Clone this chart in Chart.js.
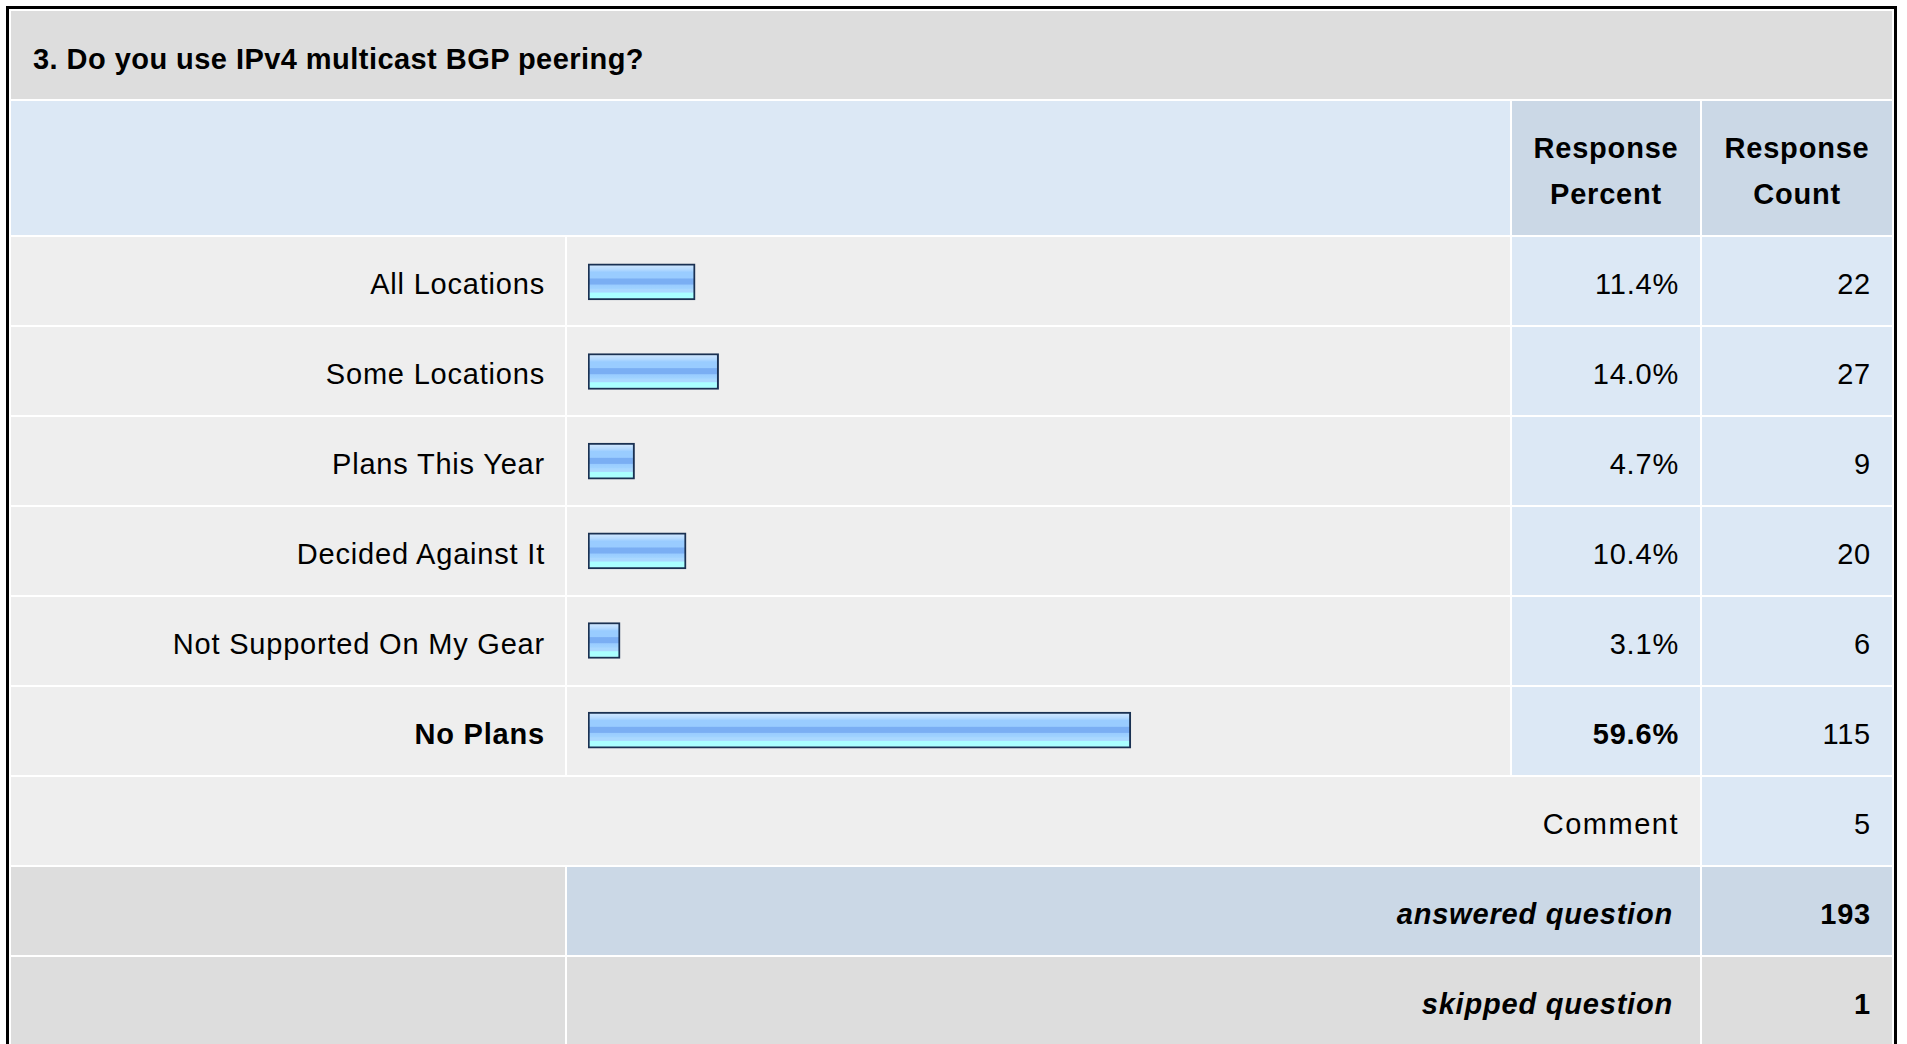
<!DOCTYPE html>
<html lang="en">
<head>
  <meta charset="UTF-8">
  <title>IPv4 multicast BGP peering</title>
  <script src="https://cdn.jsdelivr.net/npm/chart.js"></script>
  <style>
    * { margin:0; padding:0; box-sizing:border-box; }
    html,body { width:100%; height:100%; overflow:hidden; background:#fff; font-family:'Liberation Sans', Arial, sans-serif; color:#000; }

    #survey {
      position:absolute; left:6px; top:6px; width:1891px;
      table-layout:fixed; border-collapse:separate; border-spacing:2px;
      border:3px solid #000; background:#fff;
    }
    #survey td { height:88px; font-size:29px; letter-spacing:0.8px; vertical-align:middle; white-space:nowrap; padding-top:6px; }
    .title td { background:#ddd; font-weight:bold; letter-spacing:0.45px !important; padding-left:22px; padding-top:8px !important; }
    .head td { height:134px !important; background:#dce8f5; padding-top:5px !important; }
    .head td.hd { background:#cbd8e6; font-weight:bold; letter-spacing:0.6px; text-align:center; line-height:46px; }
    .lbl { background:#eee; text-align:right; padding-right:20px; }
    .bar { background:#eee; }
    .pct { background:#dce8f5; text-align:right; padding-right:21px; }
    .cnt { background:#dce8f5; text-align:right; padding-right:21px; }
    .comment { background:#eee; text-align:right; padding-right:21px; letter-spacing:1.5px !important; }
    .gray { background:#ddd; }
    .sum { text-align:right; padding-right:27px; font-weight:bold; font-style:italic; }
    .blue { background:#cbd8e6; }
    .bold { font-weight:bold; }

    #bars { position:absolute; left:567px; top:237px; pointer-events:none; }
  </style>
</head>
<body>
  <table id="survey">
    <colgroup>
      <col style="width:554px"><col style="width:943px"><col style="width:188px"><col style="width:190px">
    </colgroup>
    <tbody id="rows">
      <tr class="title"><td colspan="4">3. Do you use IPv4 multicast BGP peering?</td></tr>
      <tr class="head"><td colspan="2"></td><td class="hd">Response<br>Percent</td><td class="hd">Response<br>Count</td></tr>
    </tbody>
  </table>
  <canvas id="bars" width="943" height="538"></canvas>

  <script>
    // survey answers
    const categories = ['All Locations', 'Some Locations', 'Plans This Year', 'Decided Against It', 'Not Supported On My Gear', 'No Plans'];
    const percents = [11.4, 14.0, 4.7, 10.4, 3.1, 59.6];
    const counts = [22, 27, 9, 20, 6, 115];
    const highlighted = 'No Plans';
    const commentCount = 5;
    const answered = 193;
    const skipped = 1;

    // table rows
    let html = '';
    categories.forEach((c, i) => {
      const b = c === highlighted ? ' bold' : '';
      html += `<tr><td class="lbl${b}">${c}</td><td class="bar"></td>` +
              `<td class="pct${b}">${percents[i].toFixed(1)}%</td><td class="cnt">${counts[i]}</td></tr>`;
    });
    html += `<tr><td colspan="3" class="comment">Comment</td><td class="cnt">${commentCount}</td></tr>`;
    html += `<tr><td class="gray"></td><td colspan="2" class="blue sum">answered question</td><td class="blue cnt bold">${answered}</td></tr>`;
    html += `<tr><td class="gray"></td><td colspan="2" class="gray sum">skipped question</td><td class="gray cnt bold">${skipped}</td></tr>`;
    document.getElementById('rows').insertAdjacentHTML('beforeend', html);

    // striped blue fill, built per bar from its own position on the y scale
    function barFill(c) {
      const chart = c.chart;
      const sc = chart.scales && chart.scales.y;
      if (!sc || c.dataIndex === undefined) return '#99ccff';
      const y = sc.getPixelForValue(c.dataIndex);
      if (!isFinite(y)) return '#99ccff';
      const g = chart.ctx.createLinearGradient(0, y - 16, 0, y + 16);
      g.addColorStop(0, '#cbe5ff');
      g.addColorStop(0.12, '#b3d9ff');
      g.addColorStop(0.2, '#99ccff');
      g.addColorStop(0.38, '#99ccff');
      g.addColorStop(0.41, '#7aaef3');
      g.addColorStop(0.57, '#7aaef3');
      g.addColorStop(0.6, '#99ccff');
      g.addColorStop(0.7, '#9fd2ff');
      g.addColorStop(0.74, '#aad8ff');
      g.addColorStop(0.82, '#aad8ff');
      g.addColorStop(0.85, '#aaffff');
      g.addColorStop(1, '#aaffff');
      return g;
    }

    // bars keep a small stub below zero, like the survey tool draws them
    const barBase = -0.45;

    new Chart(document.getElementById('bars'), {
      type: 'bar',
      data: {
        labels: categories,
        datasets: [{
          data: percents,
          base: barBase,
          backgroundColor: barFill,
          borderColor: '#1a3152',
          borderWidth: 2,
          borderSkipped: false,
          barThickness: 36
        }]
      },
      options: {
        indexAxis: 'y',
        responsive: false,
        animation: false,
        devicePixelRatio: 1,
        layout: { padding: { left: 21, right: 14, top: 0, bottom: 0 } },
        scales: {
          x: { min: barBase, max: 100, display: false },
          y: { display: false }
        },
        plugins: { legend: { display: false }, tooltip: { enabled: false } }
      }
    });
  </script>
</body>
</html>
